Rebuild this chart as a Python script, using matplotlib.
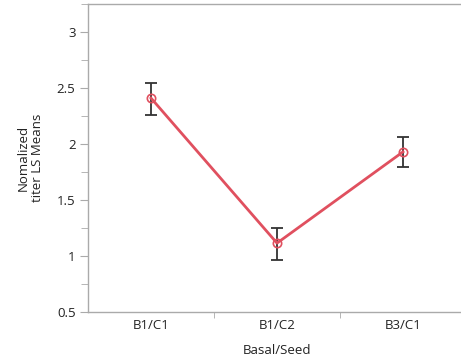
import matplotlib
matplotlib.use("Agg")
import matplotlib.pyplot as plt
from matplotlib.ticker import MultipleLocator, FixedLocator, NullFormatter

# data
groups = ["B1/C1", "B1/C2", "B3/C1"]
means = [2.41, 1.115, 1.93]
err_low = [0.15, 0.155, 0.135]
err_high = [0.135, 0.135, 0.13]

plt.rcParams['font.family'] = ['Open Sans', 'DejaVu Sans']

fig = plt.figure(figsize=(4.61, 3.6), dpi=100)
ax = fig.add_axes([88 / 461, 48 / 360, 378 / 461, 308 / 360])

x = list(range(len(groups)))
ax.errorbar(x, means, yerr=[err_low, err_high], fmt='none',
            ecolor='#333333', elinewidth=1.3, capsize=4, capthick=1.3, zorder=2)
ax.plot(x, means, color='#e0505f', lw=2, zorder=3)
ax.plot(x, means, 'o', ms=6, mfc='none', mec='#e0505f', mew=1.2, zorder=4)

fs = 9.5
ax.set_xlim(-0.5, 2.5)
ax.set_ylim(0.5, 3.25)
ax.set_xticks(x)
ax.set_xticklabels(groups, fontsize=fs, color='#222222')
ax.tick_params(axis='x', length=0, pad=5)
ax.xaxis.set_minor_locator(FixedLocator([0.5, 1.5]))
ax.xaxis.set_minor_formatter(NullFormatter())
ax.tick_params(axis='x', which='minor', length=4, color='#aaaaaa', direction='out')

ax.yaxis.set_minor_locator(MultipleLocator(0.25))
ax.set_yticks([0.5, 1, 1.5, 2, 2.5, 3])
ax.set_yticklabels(["0.5", "1", "1.5", "2", "2.5", "3"], fontsize=fs, color='#222222')
ax.tick_params(axis='y', which='major', length=6, color='#aaaaaa', pad=3)
ax.tick_params(axis='y', which='minor', length=5, color='#aaaaaa')

for s in ax.spines.values():
    s.set_color('#aaaaaa')
    s.set_linewidth(1)

ax.set_xlabel("Basal/Seed", fontsize=fs, color='#222222', labelpad=9)
ax.set_ylabel("Nomalized\ntiter LS Means", fontsize=fs, color='#222222', labelpad=9)

fig.savefig("out.png", dpi=100)
